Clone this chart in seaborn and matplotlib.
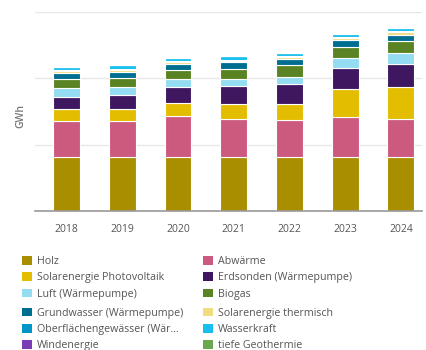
import matplotlib
matplotlib.use("Agg")
import matplotlib.pyplot as plt
from matplotlib.patches import Patch
import seaborn as sns
import pandas as pd

# Renewable heat/energy production by source, GWh per year
years = [2018, 2019, 2020, 2021, 2022, 2023, 2024]
holz = [81, 81, 81, 81, 81, 81, 81]
abwaerme = [54, 54, 61.5, 57.5, 56.5, 61, 57.5]
solar_pv = [19.5, 19.5, 21, 23.5, 24.5, 41.5, 48.5]
erdsonden = [18, 20.5, 23.5, 26.5, 29, 32.5, 34]
luft = [13.5, 12.5, 11.5, 11, 11.5, 15, 17.5]
biogas = [12.5, 13.5, 13.5, 15, 17, 16.5, 17.5]
grundwasser = [10, 9, 10, 9.5, 10, 10.5, 10]
solar_thermisch = [2.5, 3, 2.5, 2.5, 2.5, 3, 3.5]
oberflaeche = [1.5, 1.5, 1.5, 1.5, 1.5, 1.5, 1.5]
wasserkraft = [4.5, 5, 4.5, 5.5, 5, 5, 5]
windenergie = [0.3, 0.3, 0.3, 0.3, 0.3, 0.3, 0.3]
geothermie = [0.2, 0.2, 0.2, 0.2, 0.2, 0.2, 0.2]

sources = [
    ("Holz", holz, "#a98f00"),
    ("Abwärme", abwaerme, "#cc5a7e"),
    ("Solarenergie Photovoltaik", solar_pv, "#e3bd00"),
    ("Erdsonden (Wärmepumpe)", erdsonden, "#3f1760"),
    ("Luft (Wärmepumpe)", luft, "#94dcf2"),
    ("Biogas", biogas, "#5a8423"),
    ("Grundwasser (Wärmepumpe)", grundwasser, "#006e90"),
    ("Solarenergie thermisch", solar_thermisch, "#f1dc80"),
    ("Oberflächengewässer (Wär…", oberflaeche, "#0096c8"),
    ("Wasserkraft", wasserkraft, "#17bfee"),
    ("Windenergie", windenergie, "#7b3db5"),
    ("tiefe Geothermie", geothermie, "#6aa84f"),
]

rows = []
for name, vals, _ in sources:
    for y, v in zip(years, vals):
        rows.append({"Jahr": y, "Quelle": name, "GWh": v})
df = pd.DataFrame(rows)

names = [s[0] for s in sources]
palette = {s[0]: s[2] for s in sources}

sns.set_theme(style="white")
plt.rcParams["font.family"] = ["Open Sans", "DejaVu Sans"]

fig = plt.figure(figsize=(4.27, 3.5), dpi=100)
ax = fig.add_axes([35 / 427, 139 / 350, 387 / 427, 199 / 350])

# seaborn stacks the last hue level at the bottom, so reverse the order
sns.histplot(
    data=df, x="Jahr", weights="GWh", hue="Quelle",
    hue_order=names[::-1], palette=palette, multiple="stack",
    discrete=True, shrink=0.48, alpha=1, edgecolor="white",
    linewidth=0.8, legend=False, ax=ax,
)

ax.set_xlim(2017.43, 2024.38)
ax.set_ylim(0, 300)
ax.set_yticks([0, 100, 200, 300])
ax.set_yticklabels([])
ax.tick_params(axis="y", length=0)
ax.yaxis.grid(True, color="#e8e8e8", linewidth=1.0)
ax.set_axisbelow(True)
ax.set_xticks(years)
ax.set_xticklabels([str(y) for y in years])
ax.tick_params(axis="x", length=5.5, width=1.0, color="#999999",
               labelsize=7.5, labelcolor="#555555", pad=3.5)
for side in ("top", "right", "left"):
    ax.spines[side].set_visible(False)
ax.spines["bottom"].set_color("#999999")
ax.spines["bottom"].set_linewidth(1.2)
ax.set_xlabel("")
ax.set_ylabel("GWh", fontsize=7.5, color="#777777", fontweight="semibold")
ax.yaxis.set_label_coords(-0.021, 0.477)

# Legend: two columns, split into two blocks of three rows
def legend_block(entries, x_px, y_px):
    handles = [Patch(facecolor=palette[n], edgecolor="none") for n in entries]
    leg = fig.legend(
        handles, entries, loc="upper left",
        bbox_to_anchor=(x_px / 427, 1 - y_px / 350),
        frameon=False, fontsize=7.7, labelcolor="#555555",
        handlelength=0.95, handleheight=0.9, handletextpad=0.45,
        labelspacing=0.48, borderpad=0, borderaxespad=0,
    )
    return leg

legend_block(["Holz", "Solarenergie Photovoltaik", "Luft (Wärmepumpe)"], 22, 256)
legend_block(["Abwärme", "Erdsonden (Wärmepumpe)", "Biogas"], 203, 256)
legend_block(["Grundwasser (Wärmepumpe)", "Oberflächengewässer (Wär…", "Windenergie"], 22, 307.5)
legend_block(["Solarenergie thermisch", "Wasserkraft", "tiefe Geothermie"], 203, 307.5)

fig.savefig("out.png", dpi=100)
